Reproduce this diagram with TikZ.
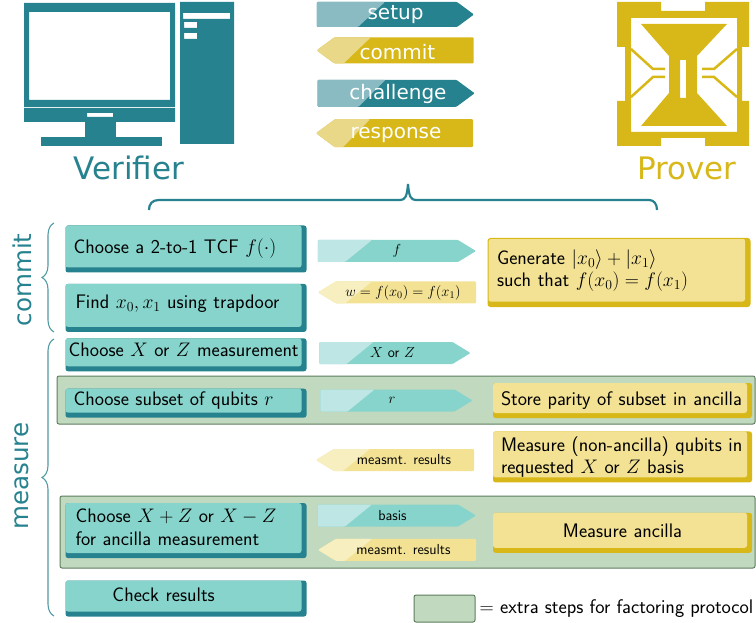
\documentclass[tikz,border=0pt]{standalone}
\usepackage{fix-cm}
\usepackage{fontspec}
\usepackage{tikz}
\usetikzlibrary{shapes.symbols, positioning, decorations.pathreplacing}

\newfontfamily\labelfont{DejaVu Sans}

\definecolor{vdark}{HTML}{26828E}
\definecolor{vfade}{HTML}{8ABBC3}
\definecolor{vlight}{HTML}{86D4CB}
\definecolor{vpale}{HTML}{BDE6E4}
\definecolor{pdark}{HTML}{D8B818}
\definecolor{pfade}{HTML}{E8D888}
\definecolor{plight}{HTML}{F3E294}
\definecolor{ppale}{HTML}{F7EFC0}
\definecolor{extrafill}{HTML}{C1D9BF}
\definecolor{extraline}{HTML}{5E7E5E}

\tikzset{
    shaded box/.style 2 args={
        rounded corners=2.5pt,
        fill=#1,
        path picture={\fill[#2, rounded corners=2.5pt]
            (path picture bounding box.north west) rectangle
            ([xshift=-5pt,yshift=5pt]path picture bounding box.south east);},
        inner xsep=0,
        inner ysep=0,
        align=left,
        font=\sffamily\fontsize{19.6}{22.5}\selectfont
    },
    vbox/.style={shaded box={vdark}{vlight}, text width=241pt},
    pbox/.style={shaded box={pdark}{plight}, text width=259pt},
    two tone/.style 2 args={
        rounded corners=1pt,
        inner sep=0,
        path picture={\fill[#1]
            (path picture bounding box.north west) --
            ([xshift=54pt+#2]path picture bounding box.north west) --
            ([xshift=27pt+#2]path picture bounding box.south west) --
            (path picture bounding box.south west) -- cycle;}
    },
    banner/.style={
        signal,
        minimum width=157pt,
        text=white,
        text height=15pt,
        text depth=4pt,
        font=\labelfont\fontsize{20}{24}\selectfont
    },
    msgarrow/.style={
        signal,
        signal pointer angle=63,
        minimum width=158pt,
        minimum height=22pt,
        font=\sffamily\fontsize{14.5}{16}\selectfont
    },
    tovbanner/.style={banner, signal to=east, signal pointer angle=73, fill=vdark, two tone={vfade}{14pt}},
    topbanner/.style={banner, signal to=west, signal pointer angle=73, fill=pdark, two tone={pfade}{0pt}},
    tov/.style={msgarrow, signal to=east, fill=vlight, two tone={vpale}{0pt}},
    top/.style={msgarrow, signal to=west, fill=plight, two tone={ppale}{0pt}},
    extra/.style={
        draw=extraline,
        fill=extrafill,
        line width=1pt,
        rounded corners=2pt,
        inner sep=0
    },
    partylabel/.style={font=\labelfont\fontsize{31}{36}\selectfont},
    phaselabel/.style={rotate=90, text=vdark, font=\labelfont\fontsize{24.6}{28}\selectfont},
    bracket/.style={draw=vdark!80, line width=1.1pt, decorate}
}

\begin{document}
\begin{tikzpicture}[x=1pt, y=-1pt]

\useasboundingbox (0,0) rectangle (756,623);

% Verifier computer
\fill[vdark, even odd rule] (24,3) rectangle (175,107) (29,12) rectangle (170,100);
\fill[vdark, even odd rule] (24,108) rectangle (175,122) (87,113) rectangle (113,117);
\fill[vdark] (85,122) rectangle (116,137);
\fill[vdark] (41,137) rectangle (162,146);
\fill[vdark, even odd rule] (180,2) rectangle (234,144)
    (183,13) rectangle (230,19)
    (184,22) rectangle (197,28)
    (184,33) rectangle (197,39);

% Prover chip
\fill[pdark, even odd rule] (617,2) -- (661,2) -- (661,11) -- (705,11) -- (705,2) -- (749,2)
    -- (749,47) -- (742,47) -- (742,101) -- (749,101) -- (749,146) -- (705,146) -- (705,138)
    -- (661,138) -- (661,146) -- (617,146) -- (617,101) -- (625,101) -- (625,47) -- (617,47)
    -- cycle (631,18) rectangle (737,132);
\fill[pdark, even odd rule] (641,24) -- (727,24) -- (697,56) -- (697,93) -- (727,126) -- (641,126)
    -- (669,93) -- (669,56) -- cycle (680,60) rectangle (686,98);
\draw[pdark, line width=2.5pt] (631,49) -- (653,69) -- (665,69);
\draw[pdark, line width=2.5pt] (631,97) -- (653,77) -- (665,77);
\draw[pdark, line width=2.5pt] (737,49) -- (714,69) -- (702,69);
\draw[pdark, line width=2.5pt] (737,97) -- (714,77) -- (702,77);

\node[partylabel, text=vdark] (verifier) at (129,168) {Verifier};
\node[partylabel, text=pdark] (prover) at (687,168) {Prover};

% Legend banners
\node[tovbanner,
    minimum height=25pt] (setup) at (387,14.5) {\hspace*{17pt}setup};
\node[topbanner,
    below=10pt of setup,
    xshift=17pt,
    text height=19pt,
    text depth=0pt,
    minimum height=26pt] (commit) {commit\hspace*{13pt}};
\node[tovbanner,
    below=16pt of commit,
    xshift=-17pt,
    text height=17pt,
    minimum height=27pt] (challenge) {\hspace*{22pt}challenge};
\node[topbanner,
    below=12pt of challenge,
    xshift=17pt,
    text height=15.5pt,
    minimum height=28pt] (response) {response\hspace*{16pt}};

% Braces
\coordinate (bigbraceL) at (149,210);
\coordinate (bigbraceR) at (657,210);
\coordinate (bigbraceT) at (408,184);
\draw[vdark, line width=2.2pt] (bigbraceL) .. controls (149,204) and (152,200) .. (159,200) -- (400,200)
    .. controls (405,200) and (407,197) .. (bigbraceT) .. controls (409,197) and (411,200) .. (416,200)
    -- (649,200) .. controls (654,200) and (657,204) .. (bigbraceR);

\coordinate (commitT) at (54,223);
\coordinate (commitB) at (54,332);
\coordinate (measureT) at (54,339);
\coordinate (measureB) at (54,616);
\draw[bracket, decoration={brace, amplitude=12pt}] (commitB) -- (commitT);
\draw[bracket, decoration={brace, amplitude=12pt}] (measureB) -- (measureT);

\node[phaselabel] (commitlabel) at (22,280) {commit};
\node[phaselabel] (measurelabel) at (22,476) {measure};

% Extra steps
\node[extra,
    minimum width=698pt,
    minimum height=48pt] (extra1) at (406,400) {};
\node[extra,
    minimum width=695pt,
    minimum height=72pt] (extra2) at (407.5,532) {};

% Verifier steps
\node[vbox,
    text depth=6pt,
    minimum height=47pt] (choosetcf) at (186,249) {\hspace*{8pt}Choose a 2-to-1 TCF $f(\cdot)$};
\node[vbox,
    below=11pt of choosetcf,
    text depth=12pt,
    minimum height=48pt] (find) {\hspace*{10pt}Find $x_0, x_1$ using trapdoor};
\node[vbox,
    below=6pt of find,
    text depth=10pt,
    minimum height=33pt] (choosexz) {\hspace*{3pt}Choose $X$ or $Z$ measurement};
\node[vbox,
    below=17pt of choosexz,
    text depth=10pt,
    minimum height=29pt] (choosesubset) {\hspace*{8pt}Choose subset of qubits $r$};
\node[vbox,
    below=85pt of choosesubset,
    text depth=29.5pt,
    minimum height=55pt] (chooseanc) {\hspace*{10pt}Choose $X+Z$ or $X-Z$\\\hspace*{10pt}for ancilla measurement};
\node[vbox,
    below=22pt of chooseanc,
    text depth=8pt,
    minimum height=36pt] (check) {\hspace*{47pt}Check results};

% Prover steps
\node[pbox,
    draw=pdark,
    line width=1pt,
    text width=262pt,
    text depth=31.5pt,
    minimum height=68pt] (generate) at (619,272.5) {\hspace*{9pt}Generate $|x_0\rangle + |x_1\rangle$\\\hspace*{9pt}such that $f(x_0)=f(x_1)$};
\node[pbox,
    minimum height=35pt] (store) at (622.5,400.5) {\hspace*{8pt}Store parity of subset in ancilla};
\node[pbox,
    below=13pt of store,
    text depth=26pt,
    minimum height=51pt] (measnon) {\hspace*{8pt}Measure (non-ancilla) qubits in\\\hspace*{8pt}requested $X$ or $Z$ basis};
\node[pbox,
    below=30pt of measnon,
    align=center,
    text depth=5pt,
    minimum height=40pt] (measanc) {Measure ancilla};

% Messages
\node[tov] (msgf) at (388,251) {\hspace*{18pt}$f$};
\node[top,
    below=19pt of msgf,
    xshift=18pt] (msgw) {$w=f(x_0)=f(x_1)$\hspace*{6pt}};
\node[tov,
    minimum width=151pt] (msgxz) at (386,353) {\hspace*{13pt}$X$ or $Z$};
\node[tov,
    minimum width=152pt] (msgr) at (387.5,400.5) {\hspace*{9pt}$r$};
\node[top] (msgres) at (404,460) {measmt. results};
\node[tov] (msgbasis) at (388,515.5) {\hspace*{9pt}basis};
\node[top,
    below=12pt of msgbasis,
    xshift=18pt] (msgresanc) {measmt. results\hspace*{5pt}};

% Key
\node[extra,
    minimum width=61pt,
    minimum height=27pt] (key) at (444.5,608.5) {};
\node[right=4pt of key,
    inner sep=0,
    font=\sffamily\fontsize{19.7}{22}\selectfont] (keytext) {$=$ extra steps for factoring protocol};

\end{tikzpicture}
\end{document}
